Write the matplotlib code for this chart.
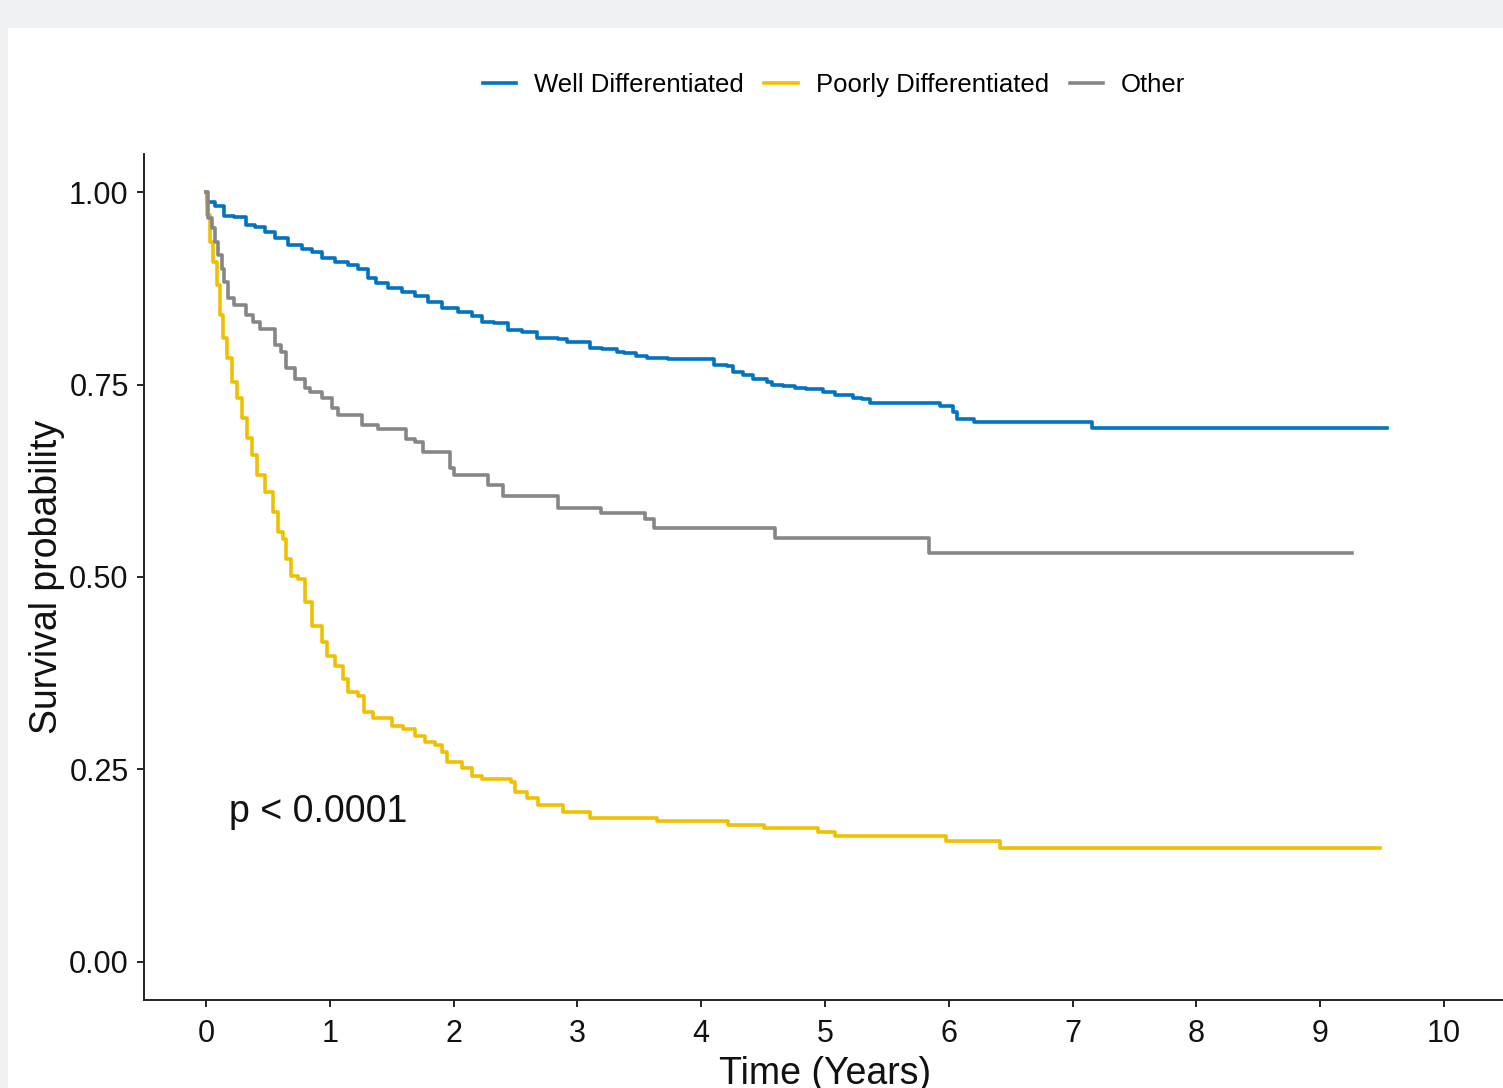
import numpy as np
import matplotlib
matplotlib.use('Agg')
from matplotlib import pyplot as plt
from matplotlib.patches import Rectangle

plt.rcParams['font.family'] = ['Liberation Sans', 'DejaVu Sans']

# Kaplan-Meier estimates (time in years, survival after each step)
well_time = [0, 0.01, 0.07, 0.15, 0.23, 0.32, 0.40, 0.48, 0.56, 0.66, 0.78, 0.86, 0.94,
             1.04, 1.15, 1.23, 1.31, 1.37, 1.47, 1.58, 1.69, 1.79, 1.91, 2.04, 2.15,
             2.23, 2.33, 2.44, 2.55, 2.67, 2.84, 2.92, 3.10, 3.20, 3.32, 3.38, 3.47,
             3.56, 3.73, 4.10, 4.21, 4.26, 4.34, 4.42, 4.53, 4.57, 4.66, 4.76, 4.85,
             4.98, 5.08, 5.23, 5.30, 5.36, 5.93, 6.03, 6.07, 6.20, 7.16]
well_surv = [1.0, 0.988, 0.982, 0.970, 0.968, 0.958, 0.955, 0.949, 0.941, 0.932, 0.927,
             0.922, 0.915, 0.910, 0.906, 0.900, 0.889, 0.882, 0.876, 0.871, 0.865,
             0.858, 0.850, 0.845, 0.839, 0.832, 0.830, 0.821, 0.818, 0.811, 0.809,
             0.806, 0.798, 0.796, 0.792, 0.791, 0.787, 0.785, 0.783, 0.775, 0.774,
             0.767, 0.762, 0.757, 0.753, 0.750, 0.748, 0.746, 0.744, 0.740, 0.736,
             0.733, 0.731, 0.726, 0.722, 0.715, 0.705, 0.701, 0.694]
well_end = 9.54

poor_time = [0, 0.01, 0.03, 0.06, 0.09, 0.11, 0.14, 0.17, 0.21, 0.25, 0.29, 0.33, 0.37,
             0.41, 0.48, 0.54, 0.58, 0.62, 0.65, 0.69, 0.74, 0.80, 0.86, 0.94, 0.98,
             1.04, 1.11, 1.15, 1.23, 1.28, 1.35, 1.50, 1.59, 1.69, 1.77, 1.85, 1.91,
             1.95, 2.07, 2.15, 2.23, 2.46, 2.50, 2.59, 2.68, 2.88, 3.10, 3.64, 4.22,
             4.51, 4.94, 5.08, 5.98, 6.41]
poor_surv = [1.0, 0.971, 0.936, 0.910, 0.880, 0.841, 0.811, 0.785, 0.754, 0.733, 0.707,
             0.681, 0.659, 0.633, 0.610, 0.584, 0.558, 0.549, 0.523, 0.501, 0.497,
             0.467, 0.436, 0.416, 0.397, 0.384, 0.367, 0.350, 0.345, 0.324, 0.317,
             0.306, 0.302, 0.293, 0.286, 0.282, 0.273, 0.259, 0.252, 0.241, 0.237,
             0.233, 0.220, 0.212, 0.204, 0.195, 0.187, 0.183, 0.178, 0.174, 0.169,
             0.163, 0.157, 0.147]
poor_end = 9.48

other_time = [0, 0.02, 0.05, 0.07, 0.10, 0.13, 0.15, 0.18, 0.23, 0.32, 0.38, 0.44, 0.56,
              0.61, 0.65, 0.72, 0.80, 0.84, 0.94, 1.02, 1.07, 1.26, 1.39, 1.62, 1.69,
              1.75, 1.97, 2.00, 2.28, 2.40, 2.84, 3.19, 3.55, 3.62, 4.60, 5.84]
other_surv = [1.0, 0.967, 0.954, 0.935, 0.919, 0.900, 0.884, 0.863, 0.854, 0.841, 0.831,
              0.822, 0.802, 0.793, 0.772, 0.757, 0.746, 0.741, 0.733, 0.720, 0.711,
              0.698, 0.692, 0.679, 0.676, 0.662, 0.642, 0.632, 0.620, 0.605, 0.590,
              0.583, 0.575, 0.564, 0.551, 0.531]
other_end = 9.26

groups = ['Well Differentiated', 'Poorly Differentiated', 'Other']
colors = ['#0073C2', '#EFC000', '#868686']
x_ticks = list(range(0, 11))
y_ticks = [0.0, 0.25, 0.5, 0.75, 1.0]
pval_text = 'p < 0.0001'

W, H = 1503, 1088
fig = plt.figure(figsize=(W / 100, H / 100), dpi=100)
fig.patch.set_facecolor('#F0F1F3')

# white card behind the plot
bg = fig.add_axes([0, 0, 1, 1], zorder=-5)
bg.axis('off')
bg.add_patch(Rectangle((8 / W, 0), 1, 1 - 28 / H, transform=bg.transAxes,
                       facecolor='white', edgecolor='none'))

ax = fig.add_axes([144 / W, 88 / H, 1362 / W, 846 / H])
ax.set_facecolor('none')

series = [(well_time, well_surv, well_end),
          (poor_time, poor_surv, poor_end),
          (other_time, other_surv, other_end)]
handles = []
for (t, s, t_end), col, name in zip(series, colors, groups):
    tt = list(t) + [t_end]
    ss = list(s) + [s[-1]]
    h, = ax.step(tt, ss, where='post', color=col, lw=2.6, label=name)
    handles.append(h)

ax.set_xlim(-0.5, 10.5)
ax.set_ylim(-0.05, 1.05)
ax.set_xticks(x_ticks)
ax.set_yticks(y_ticks)
ax.set_yticklabels(['%.2f' % v for v in y_ticks])
for side in ['top', 'right']:
    ax.spines[side].set_visible(False)
for side in ['left', 'bottom']:
    ax.spines[side].set_linewidth(1.4)
    ax.spines[side].set_color('#222222')
ax.tick_params(axis='both', length=5, width=1.4, color='#222222',
               labelsize=22, labelcolor='#111111', pad=6)
ax.tick_params(axis='x', pad=9)

ax.set_xlabel('Time (Years)', fontsize=27, labelpad=5, color='#111111')
ax.set_ylabel('Survival probability', fontsize=27, labelpad=3, color='#111111')

ax.text(0.19, 0.195, pval_text, fontsize=27, ha='left', va='center', color='#111111')

fig.legend(handles=handles, labels=groups, loc='center', ncol=3,
           bbox_to_anchor=(834 / W, 1 - 85 / H), frameon=False, fontsize=18.5,
           handlelength=1.3, handletextpad=0.7, columnspacing=0.8)

fig.savefig('out.png', dpi=100, facecolor=fig.get_facecolor())
